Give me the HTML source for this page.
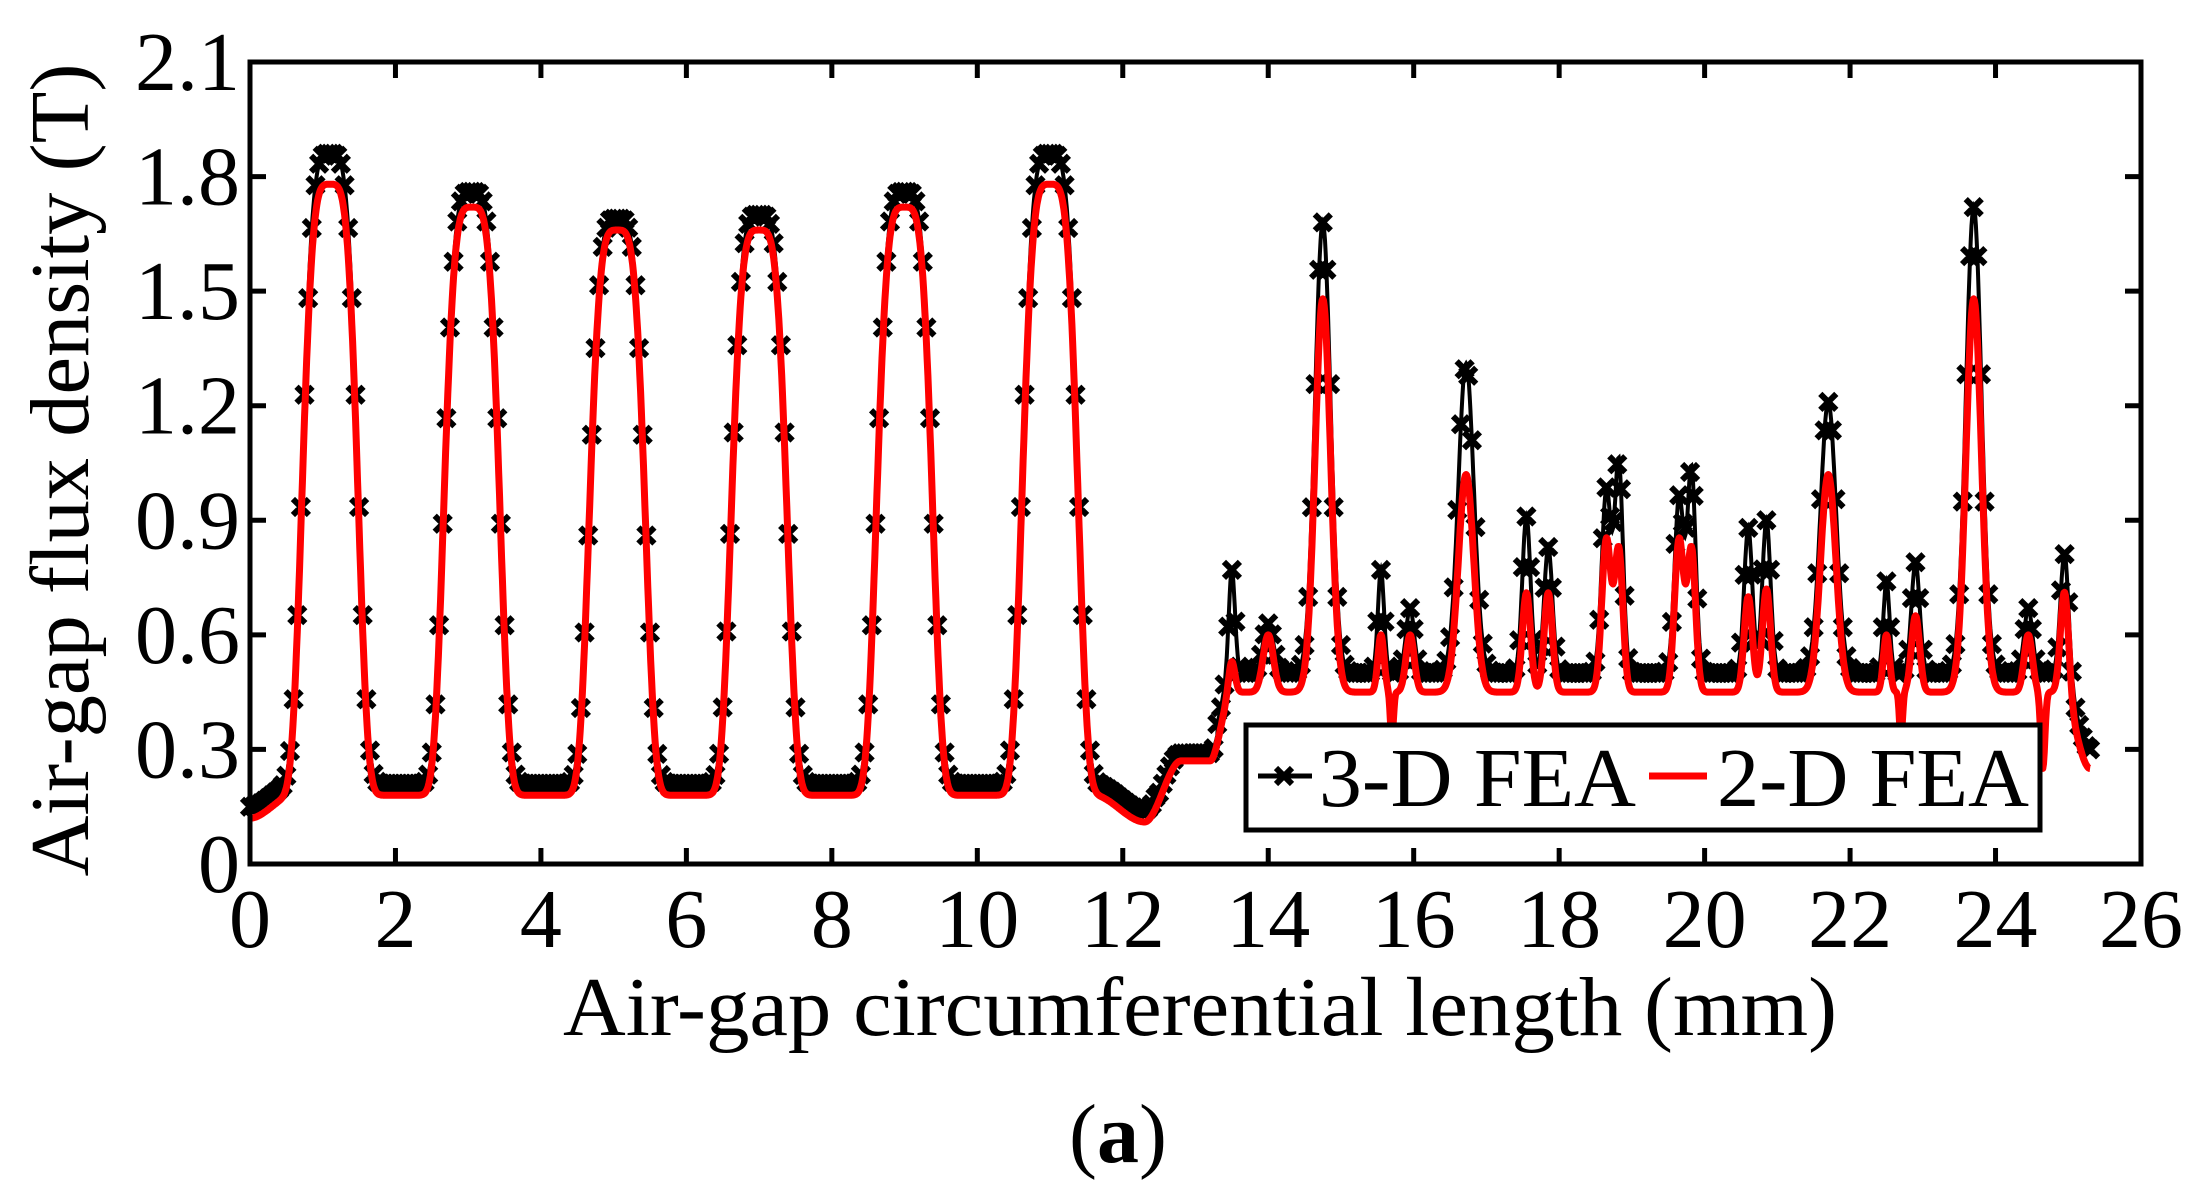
<!DOCTYPE html>
<html><head><meta charset="utf-8"><style>
html,body{margin:0;padding:0;background:#fff;}
svg{display:block;}
text{font-family:"Liberation Serif",serif;fill:#000;}
</style></head><body>
<svg id="s" width="2208" height="1193" viewBox="0 0 2208 1193" xmlns="http://www.w3.org/2000/svg">
<rect width="2208" height="1193" fill="#fff"/>
<g id="plot"></g>
<g id="axes" stroke="#000" stroke-width="5" fill="none"></g>
<g id="labels" font-size="84"></g>
<text x="1200" y="1035" font-size="84" text-anchor="middle" textLength="1274" lengthAdjust="spacingAndGlyphs">Air-gap circumferential length (mm)</text>
<text transform="translate(88,470) rotate(-90)" font-size="84" text-anchor="middle" textLength="813" lengthAdjust="spacingAndGlyphs">Air-gap flux density (T)</text>
<text x="1118" y="1162" font-size="84" text-anchor="middle">(<tspan font-weight="bold">a</tspan>)</text>
<g id="legend">
<rect x="1246" y="725" width="794" height="105" fill="#fff" stroke="#000" stroke-width="5"/>
<line x1="1258" y1="776" x2="1312" y2="776" stroke="#000" stroke-width="5"/>
<path d="M1276,768 L1292,784 M1292,768 L1276,784" stroke="#000" stroke-width="6"/>
<text x="1319" y="806" font-size="84" textLength="317" lengthAdjust="spacingAndGlyphs">3-D FEA</text>
<line x1="1649" y1="776" x2="1707" y2="776" stroke="#f00" stroke-width="7"/>
<text x="1717" y="806" font-size="84" textLength="312" lengthAdjust="spacingAndGlyphs">2-D FEA</text>
</g>
</svg>
<script>
var X0=250,X1=2141,Y0=864,Y1=62;
function px(x){return X0+(X1-X0)*x/26;}
function py(y){return Y0-(Y0-Y1)*y/2.1;}
function sm(a,b,t){t=Math.max(0,Math.min(1,t));t=t*t*(3-2*t);return a+(b-a)*t;}
function base(x){
 if(x<0.6)return sm(0.12,0.18,x/0.6);
 if(x<11.6)return 0.18;
 if(x<12.3)return sm(0.18,0.11,(x-11.6)/0.7);
 if(x<12.8)return sm(0.11,0.27,(x-12.3)/0.5);
 if(x<13.2)return 0.27;
 if(x<13.5)return sm(0.27,0.45,(x-13.2)/0.3);
 if(x<24.9)return 0.45;
 return sm(0.45,0.25,(x-24.9)/0.4);
}
var P1=[[1.1,1.78,1.86],[3.05,1.72,1.76],[5.05,1.66,1.69],[7.0,1.66,1.70],[9.0,1.72,1.76],[11.0,1.78,1.86]];
var P2=[[13.5,.08,.27,.06],[14.0,.15,.13,.1],[14.75,1.03,1.18,.15],[15.55,.15,.27,.06],[15.95,.15,.17,.08],
[16.72,.57,.81,.15],[17.55,.26,.41,.08],[17.85,.26,.33,.08],[18.65,.4,.48,.09],[18.82,.37,.55,.08],
[19.65,.4,.46,.09],[19.82,.37,.53,.08],[20.6,.25,.38,.08],[20.85,.27,.4,.08],[21.7,.57,.71,.15],
[22.5,.15,.24,.06],[22.9,.2,.29,.08],[23.7,1.03,1.22,.15],[24.45,.15,.17,.08],[24.95,.27,.32,.08]];
var D=[[15.7,-.12,.03],[22.7,-.12,.03],[24.65,-.2,.04]];
function f(x,black){
 var b=base(x), add=black?(x<12.5?0.03:(x>13.3?0.05:0.02)):0;
 var y=b+add;
 for(var i=0;i<P1.length;i++){var p=P1[i],top=black?p[2]:p[1];var d=(x-p[0])/0.42;
  y+=(top-0.18-add)*Math.exp(-d*d*d*d);}
 for(var i=0;i<P2.length;i++){var p=P2[i];var d=(x-p[0])/p[3];y+=(black?p[2]:p[1])*Math.exp(-d*d);}
 if(!black)for(var i=0;i<D.length;i++){var p=D[i];var d=(x-p[0])/p[2];y+=p[1]*Math.exp(-d*d);}
 return y;
}
var s='';
var pb='',mk='';
for(var x=0;x<=25.3001;x+=0.01){var X=px(x),Y=py(f(x,true));pb+=(pb?'L':'M')+X.toFixed(1)+','+Y.toFixed(1);}
for(var x=0;x<=25.3001;x+=0.05){var X=px(x),Y=py(f(x,true));
 mk+='M'+(X-8).toFixed(1)+','+(Y-8).toFixed(1)+'l16,16M'+(X+8).toFixed(1)+','+(Y-8).toFixed(1)+'l-16,16';}
s+='<path d="'+pb+'" fill="none" stroke="#000" stroke-width="4"/>';
s+='<path d="'+mk+'" fill="none" stroke="#000" stroke-width="6"/>';
var pr='';
for(var x=0;x<=25.3001;x+=0.01){pr+=(pr?'L':'M')+px(x).toFixed(1)+','+py(f(x,false)).toFixed(1);}
s+='<path d="'+pr+'" fill="none" stroke="#f00" stroke-width="7" stroke-linejoin="round"/>';
document.getElementById('plot').innerHTML=s;
var a='<rect x="'+X0+'" y="'+Y1+'" width="'+(X1-X0)+'" height="'+(Y0-Y1)+'"/>';
var l='';
for(var v=0;v<=26;v+=2){var X=px(v);a+='<path d="M'+X+','+Y0+'v-16M'+X+','+Y1+'v16"/>';
 l+='<text x="'+X+'" y="947" text-anchor="middle">'+v+'</text>';}
var yl=['0','0.3','0.6','0.9','1.2','1.5','1.8','2.1'];
for(var i=0;i<8;i++){var Y=py(i*0.3);a+='<path d="M'+X0+','+Y+'h16M'+X1+','+Y+'h-16"/>';
 l+='<text x="240" y="'+(Y+28)+'" text-anchor="end">'+yl[i]+'</text>';}
document.getElementById('axes').innerHTML=a;
document.getElementById('labels').innerHTML=l;
</script>
</body></html>
